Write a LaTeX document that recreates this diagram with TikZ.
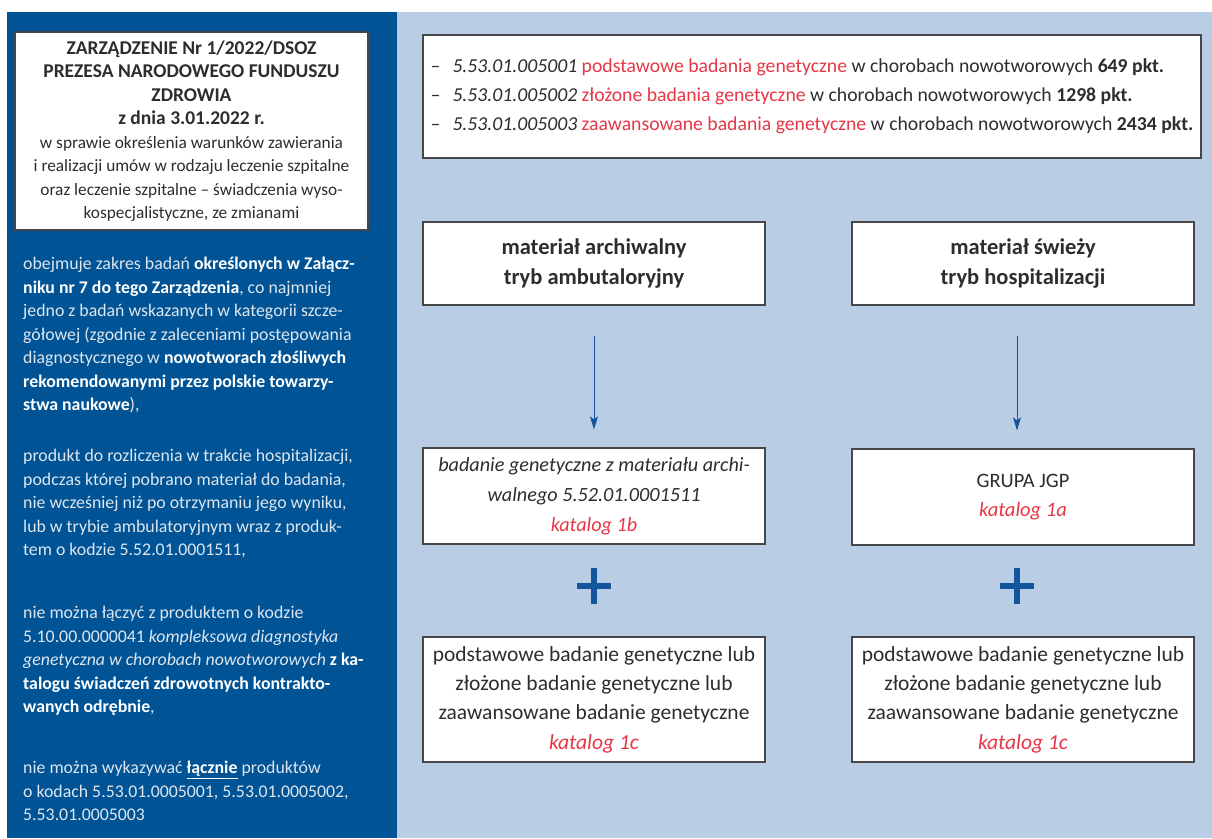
\documentclass[tikz,border=0pt]{standalone}
\usepackage{fontspec}
\setmainfont{Carlito}
\usetikzlibrary{calc,arrows.meta}
\definecolor{panelblue}{RGB}{0,83,148}
\definecolor{bgblue}{RGB}{185,205,229}
\definecolor{txtred}{RGB}{230,55,70}
\definecolor{txtgray}{RGB}{45,45,45}
\definecolor{paneltxt}{RGB}{222,230,240}
\definecolor{arrowblue}{RGB}{20,85,155}
\definecolor{boxline}{RGB}{70,70,75}
\newcommand\whitebold[1]{{\color{white}\textbf{#1}}}
\newcommand\redit[1]{{\color{txtred}\textit{#1}}}
\newcommand\titlebold[1]{{\fontsize{19.5}{23.5}\selectfont\textbf{#1}}}
\begin{document}
\begin{tikzpicture}[x=1pt,y=-1pt,
  box/.style={draw=boxline, line width=1.2pt, fill=white, inner sep=0pt, align=center, text=txtgray},
  paneltext/.style={anchor=north west, inner sep=0pt, align=left, text=paneltxt, font=\fontsize{17.8}{23.5}\selectfont},
  flow/.style={draw=arrowblue, line width=1pt, -{Stealth[length=13pt,width=8pt,inset=3pt]}},
  plusbar/.style={draw=arrowblue, line width=6pt},
]
\useasboundingbox (0,0) rectangle (1212,838);
\fill[white] (0,0) rectangle (1212,838);
\fill[panelblue] (7,12) rectangle (397,838);
\fill[bgblue] (397,12) rectangle (1212,838);

% left panel
\node[box, minimum width=353, minimum height=198, font=\fontsize{17.3}{23.5}\selectfont] (title) at (191.5,131)
 {\titlebold{ZARZĄDZENIE Nr 1/2022/DSOZ}\\
  \titlebold{PREZESA NARODOWEGO FUNDUSZU}\\
  \titlebold{ZDROWIA}\\
  \titlebold{z dnia 3.01.2022 r.}\\
  w sprawie określenia warunków zawierania\\
  i realizacji umów w rodzaju leczenie szpitalne\\
  oraz leczenie szpitalne – świadczenia wyso-\\
  kospecjalistyczne, ze zmianami};

\node[paneltext] (p1) at (23,257)
 {obejmuje zakres badań \whitebold{określonych w Załącz-}\\
  \whitebold{niku nr 7 do tego Zarządzenia}, co najmniej\\
  jedno z badań wskazanych w kategorii szcze-\\
  gółowej (zgodnie z zaleceniami postępowania\\
  diagnostycznego w \whitebold{nowotworach złośliwych}\\
  \whitebold{rekomendowanymi przez polskie towarzy-}\\
  \whitebold{stwa naukowe}),};

\node[paneltext] (p2) at (23,449)
 {produkt do rozliczenia w trakcie hospitalizacji,\\
  podczas której pobrano materiał do badania,\\
  nie wcześniej niż po otrzymaniu jego wyniku,\\
  lub w trybie ambulatoryjnym wraz z produk-\\
  tem o kodzie 5.52.01.0001511,};

\node[paneltext] (p3) at (23,606)
 {nie można łączyć z produktem o kodzie\\
  5.10.00.0000041 \textit{kompleksowa diagnostyka}\\
  \textit{genetyczna w chorobach nowotworowych} \whitebold{z ka-}\\
  \whitebold{talogu świadczeń zdrowotnych kontrakto-}\\
  \whitebold{wanych odrębnie},};

\node[paneltext] (p4) at (23,761)
 {nie można wykazywać {\color{white}\underline{\textbf{łącznie}}} produktów\\
  o kodach 5.53.01.0005001, 5.53.01.0005002,\\
  5.53.01.0005003};

% right side
\node[box, minimum width=778, minimum height=123, align=left, font=\fontsize{19.7}{29}\selectfont] (codes) at (812,96.5)
 {–\hspace{12pt}\textit{5.53.01.005001} {\color{txtred}podstawowe badania genetyczne} w chorobach nowotworowych \textbf{649 pkt.}\\
  –\hspace{12pt}\textit{5.53.01.005002} {\color{txtred}złożone badania genetyczne} w chorobach nowotworowych \textbf{1298 pkt.}\\
  –\hspace{12pt}\textit{5.53.01.005003} {\color{txtred}zaawansowane badania genetyczne} w chorobach nowotworowych \textbf{2434 pkt.}};

\node[box, minimum width=342, minimum height=83, font=\bfseries\fontsize{22.5}{30}\selectfont] (arch) at (594,263.5)
 {materiał archiwalny\\tryb ambutaloryjny};
\node[box, minimum width=342, minimum height=83, font=\bfseries\fontsize{22.5}{30}\selectfont] (fresh) at (1023,263.5)
 {materiał świeży\\tryb hospitalizacji};

\node[box, minimum width=342, minimum height=96, font=\fontsize{20.2}{30}\selectfont] (arch2) at (594,496)
 {\textit{badanie genetyczne z materiału archi-}\\\textit{walnego 5.52.01.0001511}\\\redit{katalog 1b}};
\node[box, minimum width=342, minimum height=96, font=\fontsize{20.5}{29}\selectfont] (jgp) at (1023,497)
 {GRUPA JGP\\\redit{katalog 1a}};

\node[box, minimum width=342, minimum height=125, font=\fontsize{21.5}{29.3}\selectfont] (gen1) at (594,699.5)
 {podstawowe badanie genetyczne lub\\złożone badanie genetyczne lub\\zaawansowane badanie genetyczne\\\redit{katalog 1c}};
\node[box, minimum width=342, minimum height=125, font=\fontsize{21.5}{29.3}\selectfont] (gen2) at (1023,699.5)
 {podstawowe badanie genetyczne lub\\złożone badanie genetyczne lub\\zaawansowane badanie genetyczne\\\redit{katalog 1c}};

\draw[flow, shorten <=30pt, shorten >=18pt] (arch.south) -- (arch2.north);
\draw[flow, shorten <=30pt, shorten >=18pt] ([xshift=-6pt]fresh.south) -- ([xshift=-6pt]jgp.north);

\coordinate (plusL) at (594,586);
\coordinate (plusR) at (1017,586);
\draw[plusbar] ($(plusL)+(-17,0)$) -- ($(plusL)+(17,0)$);
\draw[plusbar] ($(plusL)+(0,-18)$) -- ($(plusL)+(0,18)$);
\draw[plusbar] ($(plusR)+(-17,0)$) -- ($(plusR)+(17,0)$);
\draw[plusbar] ($(plusR)+(0,-18)$) -- ($(plusR)+(0,18)$);
\end{tikzpicture}
\end{document}
